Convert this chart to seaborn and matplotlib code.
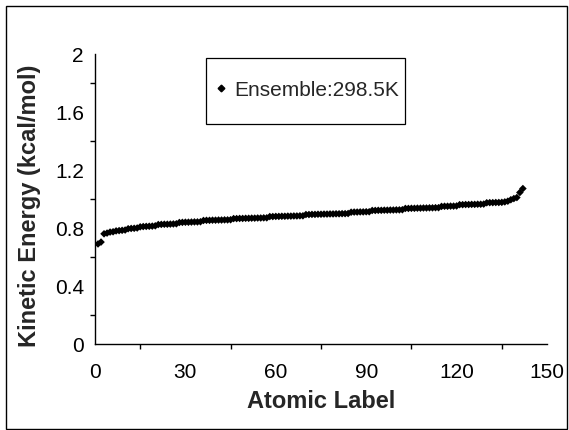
import matplotlib
matplotlib.use("Agg")
import matplotlib.pyplot as plt
from matplotlib.patches import Rectangle
from matplotlib.ticker import MultipleLocator, FixedLocator
import seaborn as sns
import pandas as pd

# Per-atom kinetic energy, sorted ascending (kcal/mol)
atom_label = list(range(1, 143))
kinetic_energy = [
    0.690, 0.703, 0.760, 0.765, 0.772, 0.774, 0.780, 0.782, 0.784, 0.786,
    0.795, 0.797, 0.798, 0.800, 0.808, 0.810, 0.811, 0.812, 0.813, 0.815,
    0.824, 0.825, 0.826, 0.826, 0.827, 0.828, 0.829, 0.838, 0.839, 0.840,
    0.840, 0.841, 0.842, 0.842, 0.843, 0.852, 0.853, 0.853, 0.854, 0.854,
    0.855, 0.855, 0.856, 0.856, 0.857, 0.865, 0.865, 0.866, 0.866, 0.867,
    0.867, 0.868, 0.868, 0.869, 0.869, 0.870, 0.870, 0.879, 0.879, 0.880,
    0.880, 0.881, 0.881, 0.882, 0.882, 0.883, 0.883, 0.884, 0.884, 0.893,
    0.893, 0.894, 0.894, 0.895, 0.895, 0.896, 0.896, 0.897, 0.897, 0.898,
    0.898, 0.899, 0.899, 0.900, 0.909, 0.910, 0.910, 0.911, 0.911, 0.912,
    0.912, 0.921, 0.921, 0.922, 0.922, 0.923, 0.923, 0.924, 0.924, 0.925,
    0.925, 0.926, 0.935, 0.935, 0.936, 0.936, 0.937, 0.937, 0.938, 0.938,
    0.939, 0.939, 0.940, 0.940, 0.949, 0.950, 0.950, 0.951, 0.951, 0.952,
    0.961, 0.961, 0.962, 0.962, 0.963, 0.963, 0.964, 0.964, 0.965, 0.974,
    0.975, 0.975, 0.976, 0.976, 0.977, 0.980, 0.985, 0.995, 1.003, 1.010,
    1.045, 1.072,
]
series_name = "Ensemble:298.5K"
x_ticks = [0, 30, 60, 90, 120, 150]
y_ticks = [0, 0.4, 0.8, 1.2, 1.6, 2]
y_tick_labels = ["0", "0.4", "0.8", "1.2", "1.6", "2"]

df = pd.DataFrame({"Atomic Label": atom_label,
                   "Kinetic Energy": kinetic_energy,
                   "series": series_name})

sns.set_theme(style="white")
plt.rcParams["font.family"] = ["Liberation Sans", "DejaVu Sans"]

fig = plt.figure(figsize=(5.69, 4.31), dpi=100)
ax = fig.add_axes([95 / 569, 86 / 431, 452 / 569, 290 / 431])

sns.scatterplot(data=df, x="Atomic Label", y="Kinetic Energy", hue="series",
                palette=["black"], marker="D", s=15, linewidth=0,
                ax=ax, legend=False)

ax.set_xlim(0, 150)
ax.set_ylim(0, 2)
ax.xaxis.set_major_locator(FixedLocator(x_ticks))
ax.xaxis.set_minor_locator(MultipleLocator(15))
ax.yaxis.set_major_locator(FixedLocator(y_ticks))
ax.set_yticklabels(y_tick_labels)
ax.yaxis.set_minor_locator(MultipleLocator(0.2))

for side in ("top", "right"):
    ax.spines[side].set_visible(False)
for side in ("left", "bottom"):
    ax.spines[side].set_color("black")
    ax.spines[side].set_linewidth(1.0)

ax.tick_params(axis="both", which="major", direction="out", length=5,
               width=1, color="black", labelsize=15, labelcolor="black")
ax.tick_params(axis="both", which="minor", direction="out", length=3.5,
               width=1, color="black")
ax.tick_params(axis="x", which="major", pad=8)
ax.tick_params(axis="y", which="major", pad=3)
ax.tick_params(axis="x", which="minor", bottom=True)
ax.tick_params(axis="y", which="minor", left=True)

ax.set_xlabel("Atomic Label", fontsize=17, fontweight="bold")
ax.xaxis.label.set_va("center")
ax.xaxis.set_label_coords(0.5, (431 - 402 - 86) / 290)
ax.set_ylabel("Kinetic Energy (kcal/mol)", fontsize=17, fontweight="bold")
ax.yaxis.label.set_va("center")
ax.yaxis.set_label_coords((30 - 95) / 452, (431 - 206 - 86) / 290)

# Legend box with a single diamond entry
fig.add_artist(Rectangle((206 / 569, 1 - 125 / 431), 199 / 569, 66 / 431,
                         transform=fig.transFigure, fill=False,
                         edgecolor="black", linewidth=0.9))
handle = plt.Line2D([], [], marker="D", color="black", linestyle="none",
                    markersize=3.4)
fig.legend([handle], [series_name], loc="center left",
           bbox_to_anchor=(211 / 569, 1 - 91 / 431), frameon=False,
           fontsize=15, handlelength=1.0, handletextpad=0.12,
           borderpad=0, borderaxespad=0)

# Outer chart-area frame
fig.add_artist(Rectangle((6 / 569, 1 / 431), 561 / 569, 423 / 431,
                         transform=fig.transFigure, fill=False,
                         edgecolor="black", linewidth=1.0))

fig.savefig("out.png", dpi=100)
